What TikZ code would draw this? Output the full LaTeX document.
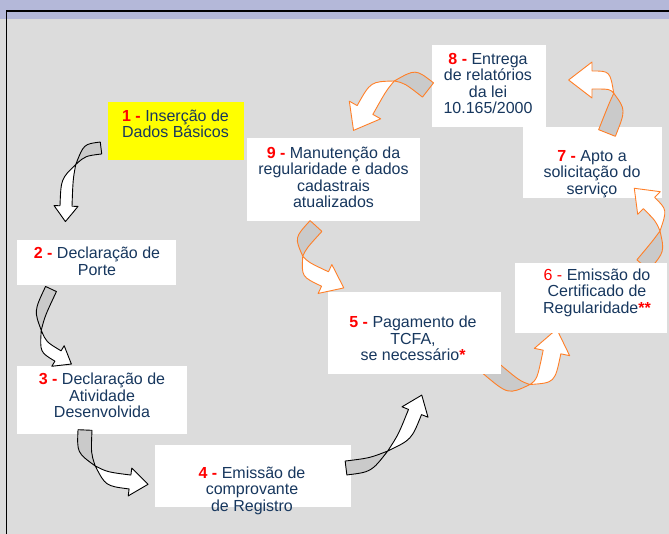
\documentclass[tikz,border=0pt]{standalone}
\usepackage{fontspec}
\setmainfont{Liberation Sans}
\usetikzlibrary{calc}

\definecolor{bandblue}{HTML}{B4B8D9}
\definecolor{slidegray}{HTML}{DCDCDC}
\definecolor{backgray}{HTML}{CACACA}
\definecolor{stepblue}{HTML}{17375E}
\definecolor{numred}{HTML}{FF0000}
\definecolor{looporange}{HTML}{FF7F27}
\definecolor{boxyellow}{HTML}{FFFF00}

\tikzset{
    box/.style 2 args={draw=none, fill=white, inner sep=0pt,
        minimum width=#1pt, minimum height=#2pt},
    steptext/.style={text=stepblue, align=center, inner sep=0pt,
        font=\fontsize{16}{16.5}\selectfont},
    ribbon/.style={line width=0.9pt, line join=round},
}
\newcommand{\stepno}[1]{\textcolor{numred}{\bfseries #1 -}}

\begin{document}
\begin{tikzpicture}[x=1pt, y=-1pt]
\useasboundingbox (0,0) rectangle (669,534);

% fondo
\fill[slidegray] (0,0) rectangle (669,534);
\fill[bandblue] (0,0) rectangle (669,19);
\draw[line width=1.2pt] (669,11) -- (6.5,11) -- (6.5,534);

% cajas de abajo
\node[box={136}{58}, fill=boxyellow] (b1) at (176,131) {};
\node[steptext] (t1) at (175.5,124) {\stepno{1} Inserção de\\Dados Básicos};

\node[box={159}{45}] (b2) at (96.5,262.5) {};
\node[steptext] (t2) at (97,261.5) {\stepno{2} Declaração de\\Porte};

\node[box={170}{68}] (b3) at (102,400) {};
\node[steptext] (t3) at (102,395.5) {\stepno{3} Declaração de\\Atividade\\Desenvolvida};

\node[box={196}{62}] (b4) at (253,476) {};
\node[steptext] (t4) at (252,490.5) {\stepno{4} Emissão de\\comprovante\\de Registro};

\node[box={139}{71}] (b7) at (592.5,162.5) {};
\node[steptext] (t7) at (592,174) {\stepno{7} Apto a\\solicitação do\\serviço};

\node[box={114}{82}] (b8) at (488.5,86.5) {};
\node[steptext] (t8) at (488,83.5) {\stepno{8} Entrega\\de relatórios\\da lei\\10.165/2000};

\node[box={173}{83}] (b9) at (333.5,179.5) {};
\node[steptext] (t9) at (333.5,177.5) {\stepno{9} Manutenção da\\regularidade e dados\\cadastrais\\atualizados};

% flechas curvas
\coordinate (o12) at (101,148); \coordinate (k12) at (68,152);  \coordinate (h12) at (66,206);
\coordinate (o23) at (51,289);  \coordinate (k23) at (28,338);  \coordinate (h23) at (58,356);
\coordinate (o34) at (85,430);  \coordinate (k34) at (83,476);  \coordinate (h34) at (130,482);
\coordinate (o45) at (346,468); \coordinate (k45) at (395,462); \coordinate (h45) at (415,412);
\coordinate (o56) at (488,366); \coordinate (k56) at (540,410); \coordinate (h56) at (552,352);
\coordinate (o67) at (643,265); \coordinate (k67) at (674,228); \coordinate (h67) at (649,203);
\coordinate (o78) at (607,133); \coordinate (k78) at (628,80);  \coordinate (h78) at (592,80);
\coordinate (o89) at (428,90);  \coordinate (k89) at (392,62);  \coordinate (h89) at (365,110);
\coordinate (o95) at (316,226); \coordinate (k95) at (285,260); \coordinate (h95) at (325,279);

\foreach \src/\bnd/\dst/\w/\col in {o12/k12/h12/6pt/black, o23/k23/h23/6pt/black,
        o34/k34/h34/7pt/black, o45/k45/h45/7pt/black, o56/k56/h56/9pt/looporange,
        o67/k67/h67/8pt/looporange, o78/k78/h78/9pt/looporange,
        o89/k89/h89/9pt/looporange, o95/k95/h95/8pt/looporange} {
    \coordinate (q) at ($(\src)!0.5!(\bnd)$);
    \coordinate (r) at ($(\bnd)!0.5!(\dst)$);
    \coordinate (m) at ($(q)!0.5!(r)$);
    \filldraw[ribbon, fill=backgray, draw=\col]
        ($(\src)!\w!90:(\bnd)$) .. controls ($(q)!\w!90:(\bnd)$) .. (m)
        .. controls ($(q)!\w!-90:(\bnd)$) .. ($(\src)!\w!-90:(\bnd)$) -- cycle;
    \filldraw[ribbon, fill=white, draw=\col]
        (m) .. controls ($(r)!\w!90:(\dst)$) .. ($(\dst)!\w!-90:(\bnd)$)
        -- ($(\dst)!2*\w!-90:(\bnd)$) -- ($(\dst)!-2.6*\w!(\bnd)$)
        -- ($(\dst)!2*\w!90:(\bnd)$) -- ($(\dst)!\w!90:(\bnd)$)
        .. controls ($(r)!\w!-90:(\dst)$) .. (m) -- cycle;
}

% cajas de arriba
\node[box={173}{82}] (b5) at (414.5,333) {};
\node[steptext] (t5) at (413,338.5) {\stepno{5} Pagamento de\\TCFA,\\se necessário\textcolor{numred}{\bfseries*}};

\node[box={152}{70}] (b6) at (591,298) {};
\node[steptext] (t6) at (597,292.5) {\textcolor{numred}{6 -} Emissão do\\Certificado de\\Regularidade\textcolor{numred}{\bfseries**}};

\end{tikzpicture}
\end{document}
